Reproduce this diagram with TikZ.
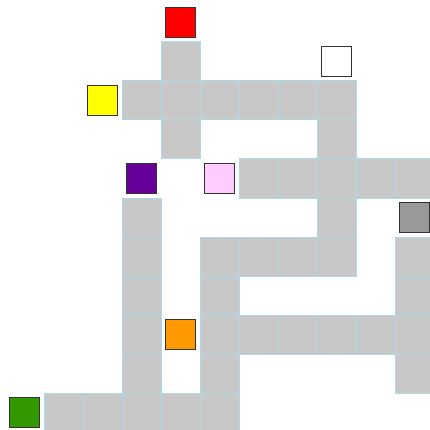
\documentclass[tikz,border=0pt]{standalone}
\definecolor{cellgray}{RGB}{200,200,200}
\definecolor{cellline}{RGB}{172,216,234}
\definecolor{mred}{RGB}{255,0,0}
\definecolor{myellow}{RGB}{255,255,0}
\definecolor{mpurple}{RGB}{102,0,153}
\definecolor{mpink}{RGB}{255,204,255}
\definecolor{mgray}{RGB}{153,153,153}
\definecolor{morange}{RGB}{255,153,0}
\definecolor{mgreen}{RGB}{51,153,0}
\begin{document}
\begin{tikzpicture}[x=1pt,y=-1pt,
  cell/.style={draw=cellline, fill=cellgray, line width=1pt, minimum size=39pt, inner sep=0pt, outer sep=0pt},
  marker/.style={draw=black!80, line width=1pt, minimum size=30pt, inner sep=0pt, outer sep=0pt}]
\useasboundingbox (0,0) rectangle (430,430);
\fill[white] (0,0) rectangle (430,430);
\foreach \c/\r in {4/1,4/2,4/3,
  3/2,5/2,6/2,7/2,8/2,
  8/3,8/4,8/5,8/6,
  6/4,7/4,9/4,10/4,
  10/6,10/7,10/8,10/9,
  5/6,6/6,7/6,
  5/8,6/8,7/8,8/8,9/8,
  5/7,5/9,5/10,
  3/5,3/6,3/7,3/8,3/9,3/10,
  1/10,2/10,4/10}
  \node[cell] (c\c-\r) at ({24.5+39*\c},{22.5+39*\r}) {};
\node[marker, fill=mred] (red) at ({24.5+39*4},{22.5+39*0}) {};
\node[marker, fill=white] (white) at ({24.5+39*8},{22.5+39*1}) {};
\node[marker, fill=myellow] (yellow) at ({24.5+39*2},{22.5+39*2}) {};
\node[marker, fill=mpurple] (purple) at ({24.5+39*3},{22.5+39*4}) {};
\node[marker, fill=mpink] (pink) at ({24.5+39*5},{22.5+39*4}) {};
\node[marker, fill=mgray] (gray) at ({24.5+39*10},{22.5+39*5}) {};
\node[marker, fill=morange] (orange) at ({24.5+39*4},{22.5+39*8}) {};
\node[marker, fill=mgreen] (green) at ({24.5+39*0},{22.5+39*10}) {};
\end{tikzpicture}
\end{document}
